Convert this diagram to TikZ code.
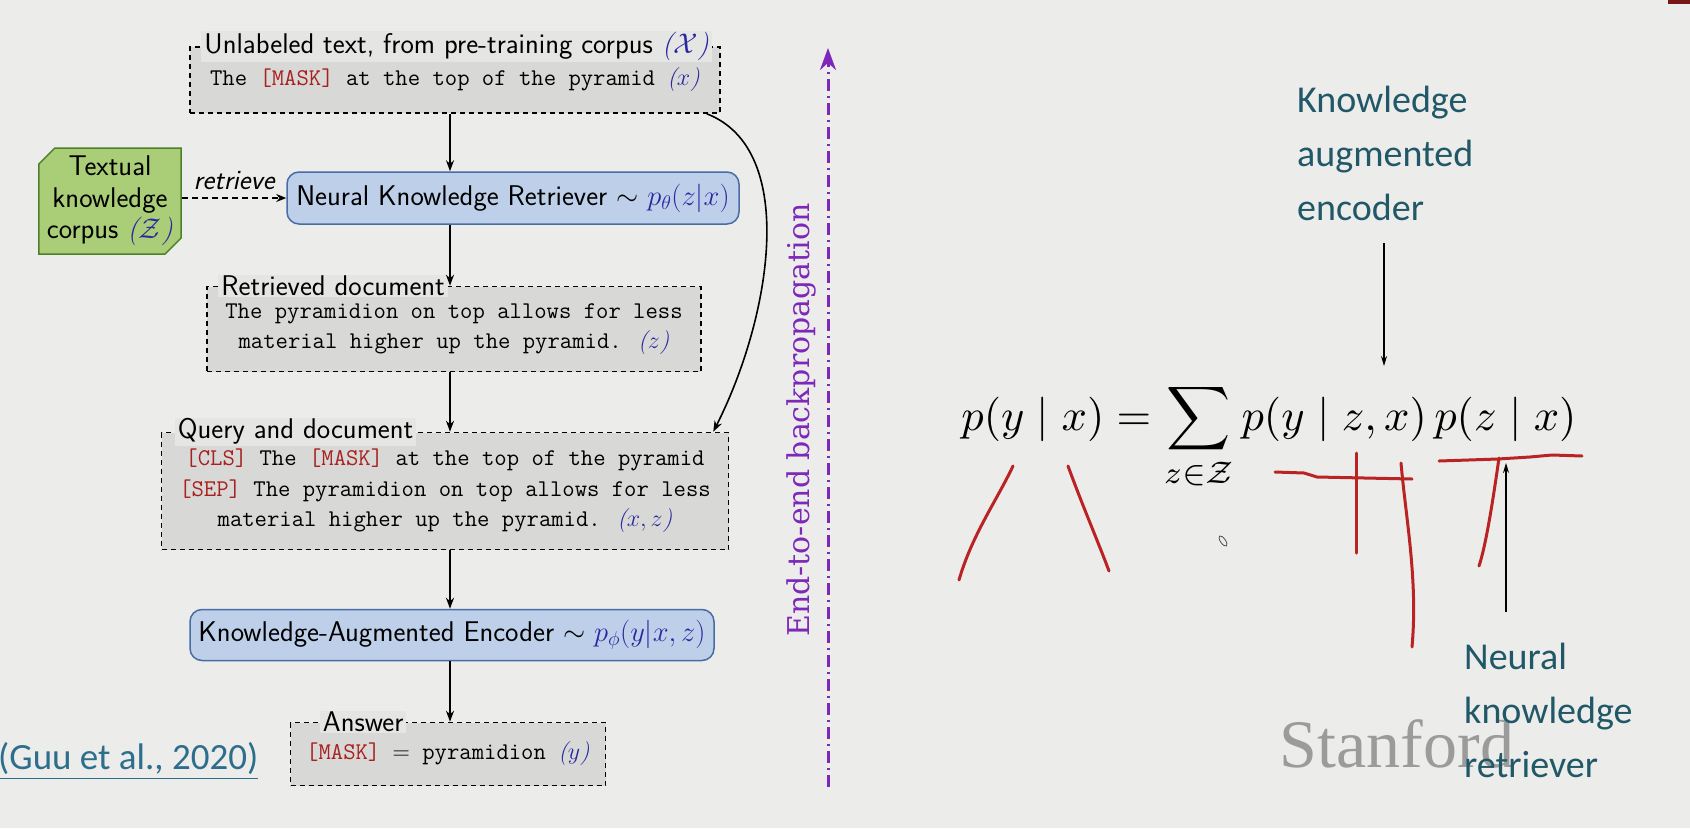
\documentclass[tikz,border=0pt]{standalone}
\usepackage{fix-cm}
\usepackage{amsmath}
\usepackage{graphicx}
\usepackage{fontspec}
\usetikzlibrary{arrows.meta,shapes.misc}
\newfontfamily\calfont{Carlito}
\newfontfamily\dvserif{DejaVu Serif}
\newfontfamily\tnserif{Liberation Serif}

\definecolor{bg}{RGB}{236,236,234}
\definecolor{boxgray}{RGB}{216,216,214}
\definecolor{titlefill}{RGB}{229,229,227}
\definecolor{bluefill}{RGB}{190,208,233}
\definecolor{blueline}{RGB}{72,108,165}
\definecolor{greenfill}{RGB}{170,205,120}
\definecolor{greenline}{RGB}{78,128,42}
\definecolor{mred}{RGB}{168,32,32}
\definecolor{mblue}{RGB}{40,40,160}
\definecolor{bprop}{RGB}{125,40,185}
\definecolor{tealtxt}{RGB}{33,88,104}
\definecolor{citecol}{RGB}{45,110,140}
\definecolor{inkred}{RGB}{185,35,35}
\definecolor{logogray}{RGB}{155,155,155}

% variable in blue, italic parentheses
\newcommand{\pv}[1]{{\color{mblue}\rmfamily\itshape(#1)}}
% special token in red
\newcommand{\tk}[1]{\textcolor{mred}{#1}}

\tikzset{
  dbox/.style={draw=black, dash pattern=on 5pt off 4pt, line width=1.5pt,
    fill=boxgray, inner sep=0pt, align=center,
    font=\ttfamily\fontsize{24}{30.5}\selectfont},
  btitle/.style={fill=titlefill, inner xsep=3pt, inner ysep=1pt, anchor=west,
    font=\sffamily\fontsize{28.5}{30}\selectfont},
  bluebox/.style={draw=blueline, fill=bluefill, rounded corners=12pt,
    line width=1.5pt, inner sep=0pt, font=\sffamily\fontsize{28.5}{30}\selectfont},
  flow/.style={-{Stealth[length=11pt,width=8pt]}, line width=2pt},
  tealnote/.style={text=tealtxt, font=\calfont\fontsize{38}{54}\selectfont,
    align=left, inner sep=0pt},
  thinarrow/.style={-{Stealth[length=10pt,width=6pt]}, line width=1.3pt},
  ink/.style={inkred, line width=3pt, line cap=round, line join=round},
}

\begin{document}
\begin{tikzpicture}[x=1pt,y=-1pt]
  % page
  \fill[bg] (0,0) rectangle (1690,828);
  \useasboundingbox (0,0) rectangle (1690,828);
  \fill[mred!70!black] (1668,0) rectangle (1690,4);

  % ---------------- pipeline ----------------
  \coordinate (ax) at (450,0);

  \node[dbox, minimum width=530pt, minimum height=66pt] (inp) at (455,80)
    {The \tk{[MASK]} at the top of the pyramid \pv{$x$}};
  \node[btitle] (inpT) at ([xshift=12pt]inp.north west)
    {Unlabeled text, from pre-training corpus \pv{$\mathcal{X}$}};

  \node[bluebox, minimum width=452pt, minimum height=52pt] (ret) at (513,198)
    {Neural Knowledge Retriever $\sim$ \textcolor{mblue}{$p_\theta(z|x)$}};

  \node[chamfered rectangle, chamfered rectangle corners={north west,south east},
    chamfered rectangle xsep=8pt, chamfered rectangle ysep=8pt,
    draw=greenline, fill=greenfill, line width=1.5pt, inner sep=0pt,
    minimum width=138pt, minimum height=106pt, align=center,
    font=\sffamily\fontsize{28.5}{31.5}\selectfont] (kb) at (110,201)
    {Textual\\knowledge\\corpus \pv{$\mathcal{Z}$}};

  \node[dbox, minimum width=494pt, minimum height=85pt] (doc) at (454,329)
    {The pyramidion on top allows for less\\material higher up the pyramid. \pv{$z$}};
  \node[btitle] (docT) at ([xshift=12pt]doc.north west) {Retrieved document};

  \node[dbox, minimum width=567pt, minimum height=117pt] (qd) at (445,491)
    {\tk{[CLS]} The \tk{[MASK]} at the top of the pyramid\\
     \tk{[SEP]} The pyramidion on top allows for less\\
     material higher up the pyramid. \pv{$x, z$}};
  \node[btitle] (qdT) at ([xshift=14pt]qd.north west) {Query and document};

  \node[bluebox, minimum width=524pt, minimum height=51pt] (enc) at (452,635)
    {Knowledge-Augmented Encoder $\sim$ \textcolor{mblue}{$p_\phi(y|x,z)$}};

  \node[dbox, minimum width=315pt, minimum height=63pt] (ans) at (448,754)
    {\tk{[MASK]} $=$ pyramidion \pv{$y$}};
  \node[btitle] (ansT) at ([xshift=30pt]ans.north west) {Answer};

  % connectors
  \draw[flow] (inp.south -| ax) -- (ret.north -| ax);
  \draw[flow] (ret.south -| ax) -- (doc.north -| ax);
  \draw[flow] (doc.south -| ax) -- (qd.north -| ax);
  \draw[flow] (qd.south -| ax) -- (enc.north -| ax);
  \draw[flow] (enc.south -| ax) -- (ans.north -| ax);
  \draw[-{Stealth[length=10pt,width=8pt]}, line width=2pt, dash pattern=on 6pt off 4pt]
    (kb.east |- ret.west) -- node[above, font=\sffamily\itshape\fontsize{28}{30}\selectfont, yshift=4pt] (rl) {retrieve} (ret.west);
  \draw[flow, line width=1.6pt] ([xshift=-14pt]inp.south east)
    .. controls (800,150) and (770,320) .. ([xshift=-16pt]qd.north east);

  % citation
  \node[anchor=west, inner sep=0pt, text=citecol, font=\calfont\fontsize{37}{40}\selectfont]
    (cite) at (-2,761) {\underline{(Guu et al., 2020)}};

  % end-to-end backpropagation
  \coordinate (bpS) at (828,787);
  \coordinate (bpE) at (828,48);
  \draw[bprop, line width=3pt, dash pattern=on 12pt off 5pt on 2pt off 5pt,
    -{Stealth[length=22pt,width=16pt]}] (bpS) -- (bpE);
  \node[rotate=90, text=bprop, font=\dvserif\fontsize{30}{32}\selectfont] (bpT) at (801,420)
    {End-to-end backpropagation};

  % ---------------- formula and notes ----------------
  \node[text=logogray, font=\tnserif\fontsize{68}{70}\selectfont, inner sep=0pt]
    (logo) at (1397,744) {Stanford};

  % set at 10pt and enlarged as a whole
  \node[anchor=base, inner sep=0pt, font=\normalsize] (eq) at (1269,430)
    {\scalebox{4.45}{$\displaystyle p(y\mid x)=\sum_{z\in\mathcal{Z}} p(y\mid z,x)\,p(z\mid x)$}};

  \node[tealnote, anchor=west] (kae) at (1297,153) {Knowledge\\augmented\\encoder};
  \node[tealnote, anchor=west] (nkr) at (1464,710) {Neural\\knowledge\\retriever};

  \coordinate (kaeTip) at (1384,366);
  \coordinate (nkrTip) at (1506,463);
  \draw[thinarrow] (1384,243) -- (kaeTip);
  \draw[thinarrow] (1506,612) -- (nkrTip);

  % hand-drawn marks
  \draw[ink] (1013,466) .. controls (997,500) and (972,535) .. (959,580);
  \draw[ink] (1068,466) .. controls (1083,507) and (1099,544) .. (1109,571);
  \draw[ink] (1275,472) -- (1304,473) -- (1317,477) -- (1412,479);
  \draw[ink] (1356,453) -- (1356,553);
  \draw[ink] (1401,463) .. controls (1406,520) and (1418,580) .. (1412,647);
  \draw[ink] (1439,461) -- (1498,459) -- (1530,457) -- (1552,455) -- (1582,456);
  \draw[ink] (1499,458) .. controls (1493,500) and (1486,545) .. (1479,566);
  \draw[black!70, line width=0.8pt, rotate around={35:(1223,541)}] (1223,541) ellipse (2.5pt and 6pt);
\end{tikzpicture}
\end{document}
